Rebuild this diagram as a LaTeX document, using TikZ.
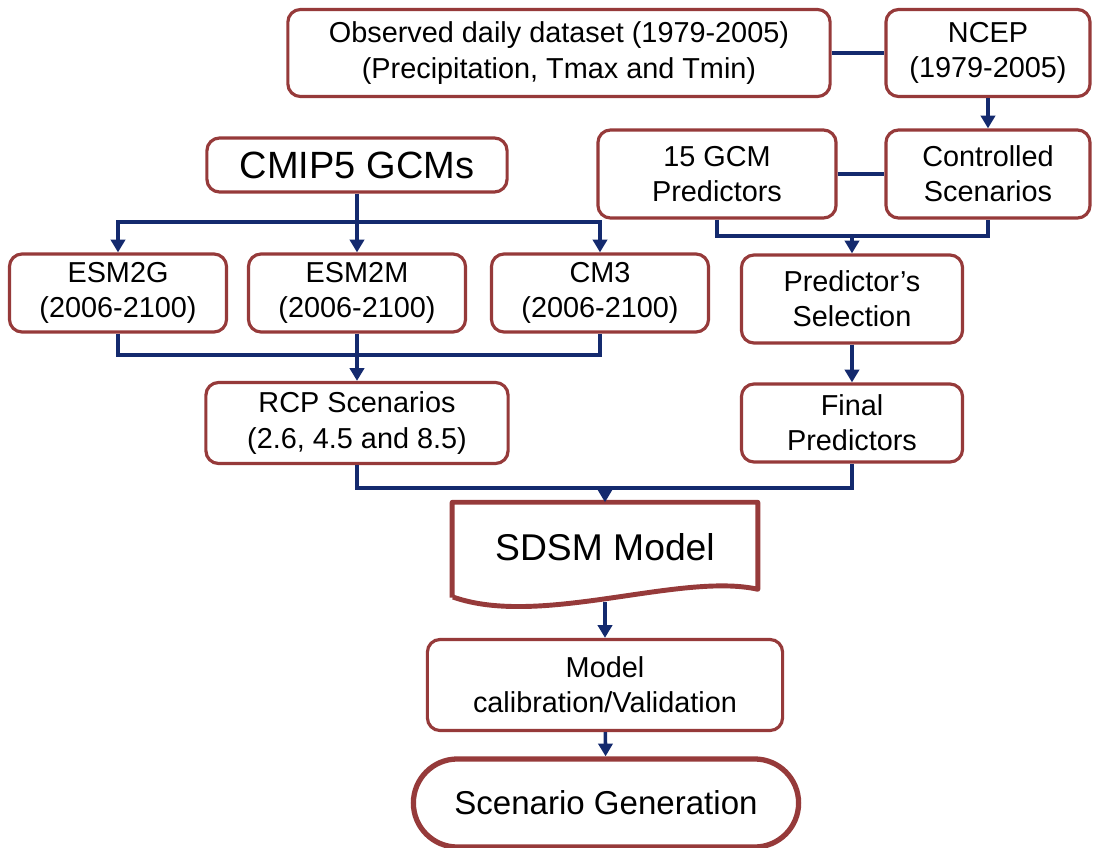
\documentclass[tikz,border=0pt]{standalone}
\usepackage{fontspec}
\setmainfont{Liberation Sans}
\usepackage{tikz}
\usetikzlibrary{arrows.meta}

\definecolor{boxred}{RGB}{150,58,58}
\definecolor{linkblue}{RGB}{20,42,110}

\begin{document}
\begin{tikzpicture}[x=0.01cm, y=-0.01cm,
        box/.style={draw=boxred, line width=0.9pt, rounded corners=3.6pt,
            align=center, inner sep=0pt, fill=white,
            font=\fontsize{8.2}{10}\selectfont},
        bigbox/.style={box, font=\fontsize{10.8}{12}\selectfont},
        link/.style={draw=linkblue, line width=1pt},
        >={Triangle[length=3.6pt,width=4pt]} % Pfeilspitzen
        ]
    \useasboundingbox (0,0) rectangle (1096,848);

    % Kaesten oben
    \node[box, minimum width=5.42cm, minimum height=0.87cm] (obs) at (559,53)
        {Observed daily dataset (1979-2005)\\(Precipitation, Tmax and Tmin)};
    \node[box, minimum width=2.04cm, minimum height=0.87cm] (ncep) at (988,53)
        {NCEP\\(1979-2005)};
    \node[bigbox, minimum width=3.00cm, minimum height=0.54cm] (cmip) at (357,165)
        {CMIP5 GCMs};
    \node[box, minimum width=2.38cm, minimum height=0.88cm] (gcmpred) at (717,174)
        {15 GCM\\Predictors};
    \node[box, minimum width=2.04cm, minimum height=0.88cm] (ctrl) at (988,174)
        {Controlled\\Scenarios};

    % GCM-Laeufe
    \node[box, minimum width=2.17cm, minimum height=0.78cm] (esm2g) at (118,293)
        {ESM2G\\(2006-2100)};
    \node[box, minimum width=2.17cm, minimum height=0.78cm] (esm2m) at (357,293)
        {ESM2M\\(2006-2100)};
    \node[box, minimum width=2.17cm, minimum height=0.78cm] (cm3) at (600,293)
        {CM3\\(2006-2100)};
    \node[box, minimum width=2.21cm, minimum height=0.88cm] (sel) at (852,299)
        {Predictor's\\Selection};
    \node[box, minimum width=3.02cm, minimum height=0.81cm] (rcp) at (357,423)
        {RCP Scenarios\\(2.6, 4.5 and 8.5)};
    \node[box, minimum width=2.21cm, minimum height=0.78cm] (final) at (852,423)
        {Final\\Predictors};

    % Modell
    \node[inner sep=0pt, minimum width=3.04cm, minimum height=1.00cm] (sdsm) at (605,553) {};
    \node[font=\fontsize{10.6}{12}\selectfont] (sdsmtext) at (605,547) {SDSM Model};
    \draw[draw=boxred, line width=1.4pt, line join=round]
        (sdsm.south west) ++(0,-6) -- (sdsm.north west) -- (sdsm.north east)
        -- ++(0,87) .. controls (680,572) and (540,628) .. (453,597);
    \node[box, minimum width=3.55cm, minimum height=0.91cm] (calib) at (605,685)
        {Model\\calibration/Validation};
    \node[box, line width=1.5pt, rounded corners=0.44cm,
        font=\fontsize{9.4}{11}\selectfont,
        minimum width=3.85cm, minimum height=0.88cm] (scen) at (606,803)
        {Scenario Generation};

    % Hilfspunkte
    \coordinate (j1) at (852,236);
    \coordinate (j2) at (357,222);
    \coordinate (j3) at (357,355);
    \coordinate (j4) at (605,488);

    % Verbindungen
    \draw[link] (obs) -- (ncep);
    \draw[link, ->] (ncep) -- (ctrl);
    \draw[link] (gcmpred) -- (ctrl);
    \draw[link] (gcmpred.south) |- (j1) -| (ctrl.south);
    \draw[link, ->] (j1) -- (sel);
    \draw[link] (cmip) -- (j2);
    \draw[link, ->] (j2) -| (esm2g);
    \draw[link, ->] (j2) -- (esm2m);
    \draw[link, ->] (j2) -| (cm3);
    \draw[link] (esm2g) |- (j3) -| (cm3);
    \draw[link, ->] (esm2m) -- (rcp);
    \draw[link, ->] (sel) -- (final);
    \draw[link] (rcp) |- (j4) -| (final);
    \draw[link, ->] (j4) -- (sdsm);
    \draw[link, ->] (605,602) -- (calib);
    \draw[link, ->] (calib) -- (scen);
\end{tikzpicture}
\end{document}
